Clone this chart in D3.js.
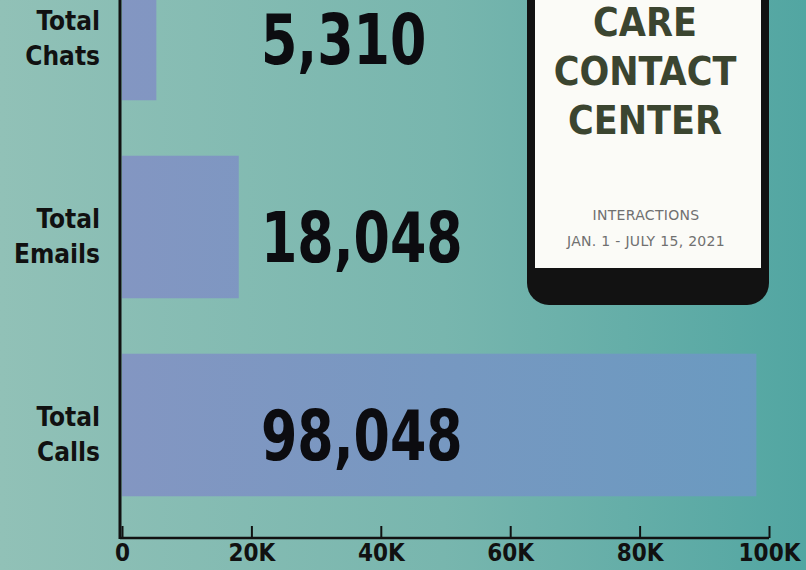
<!DOCTYPE html>
<html>
<head>
<meta charset="utf-8">
<script src="https://cdn.jsdelivr.net/npm/d3@7"></script>
<style>
  body { margin: 0; background: #7fb8b0; }
  #chart-area svg { display: block; }
</style>
</head>
<body>
<div id="chart-area"></div>
<script>

// Data
var categories = ["Total Chats", "Total Emails", "Total Calls"];
var values = [5310, 18048, 98048];
var tickValues = [0, 20000, 40000, 60000, 80000, 100000];
var tickLabels = ["0", "20K", "40K", "60K", "80K", "100K"];
var phoneTitle = ["CARE", "CONTACT", "CENTER"];
var phoneNote = ["INTERACTIONS", "JAN. 1 - JULY 15, 2021"];

var W = 806, H = 570;
var font = "'DejaVu Sans Condensed', 'DejaVu Sans', sans-serif";

var svg = d3.select("#chart-area").append("svg")
    .attr("width", W)
    .attr("height", H);

var defs = svg.append("defs");

var bg = defs.append("linearGradient").attr("id", "bg")
    .attr("x1", "0").attr("x2", "1").attr("y1", "0").attr("y2", "0");
bg.append("stop").attr("offset", "0").attr("stop-color", "#91c1b7");
bg.append("stop").attr("offset", "0.55").attr("stop-color", "#78b6ae");
bg.append("stop").attr("offset", "1").attr("stop-color", "#52a6a2");

var barGrad = defs.append("linearGradient").attr("id", "barGrad")
    .attr("gradientUnits", "userSpaceOnUse")
    .attr("x1", 120).attr("x2", 770).attr("y1", 0).attr("y2", 0);
barGrad.append("stop").attr("offset", "0").attr("stop-color", "#8396c2");
barGrad.append("stop").attr("offset", "1").attr("stop-color", "#6a9ac0");

svg.append("rect")
    .attr("width", W)
    .attr("height", H)
    .attr("fill", "url(#bg)");

// Scales
var x = d3.scaleLinear()
    .domain([0, 100000])
    .range([122, 769]);

var y = d3.scaleBand()
    .domain(categories)
    .range([-70, 524])
    .paddingInner(0.28)
    .paddingOuter(0.14);

// Phone graphic (top right)
var phone = svg.append("g");
phone.append("rect")
    .attr("x", 527).attr("y", -40)
    .attr("width", 242).attr("height", 345)
    .attr("rx", 22)
    .attr("fill", "#121212");
phone.append("rect")
    .attr("x", 535).attr("y", -40)
    .attr("width", 226).attr("height", 308)
    .attr("fill", "#fbfbf7");

phone.selectAll(".ptitle")
    .data(phoneTitle)
    .join("text")
    .attr("class", "ptitle")
    .attr("x", 645)
    .attr("y", (d, i) => 36 + i * 49)
    .attr("text-anchor", "middle")
    .attr("font-family", font)
    .attr("font-weight", "bold")
    .attr("font-size", 39)
    .attr("fill", "#3b4530")
    .text(d => d);

phone.selectAll(".pnote")
    .data(phoneNote)
    .join("text")
    .attr("class", "pnote")
    .attr("x", 646)
    .attr("y", (d, i) => 220 + i * 26)
    .attr("text-anchor", "middle")
    .attr("font-family", "'DejaVu Sans', sans-serif")
    .attr("font-size", 14)
    .attr("letter-spacing", 0.3)
    .attr("fill", "#707070")
    .text(d => d);

// Bars
svg.selectAll(".bar")
    .data(categories)
    .join("rect")
    .attr("class", "bar")
    .attr("x", x(0))
    .attr("y", d => y(d))
    .attr("width", (d, i) => x(values[i]) - x(0))
    .attr("height", y.bandwidth())
    .attr("fill", "url(#barGrad)");

// Value labels (squeezed a bit to look like the condensed original)
svg.selectAll(".value")
    .data(categories)
    .join("text")
    .attr("class", "value")
    .attr("transform", d => `translate(261, ${y(d) + y.bandwidth() / 2 + 35}) scale(0.83, 1)`)
    .attr("font-family", font)
    .attr("font-weight", "bold")
    .attr("font-size", 70)
    .attr("fill", "#0c0c10")
    .text((d, i) => d3.format(",")(values[i]));

// Category labels (two lines)
var cat = svg.selectAll(".cat")
    .data(categories)
    .join("text")
    .attr("class", "cat")
    .attr("text-anchor", "end")
    .attr("font-family", font)
    .attr("font-weight", "bold")
    .attr("font-size", 26)
    .attr("fill", "#111");

cat.selectAll("tspan")
    .data(d => d.split(" ").map(w => ({w: w, c: d})))
    .join("tspan")
    .attr("x", 100)
    .attr("y", (t, j) => y(t.c) + y.bandwidth() / 2 + 1 + j * 35)
    .text(t => t.w);

// Axes
var xAxis = d3.axisBottom(x)
    .tickValues(tickValues)
    .tickSizeInner(-12)
    .tickSizeOuter(0)
    .tickPadding(6)
    .tickFormat((d, i) => tickLabels[i]);

var gx = svg.append("g")
    .attr("class", "x-axis")
    .attr("transform", "translate(0,538)")
    .call(xAxis);

gx.select(".domain")
    .attr("stroke", "#111")
    .attr("stroke-width", 2.5)
    .attr("d", "M120,0H" + x(100000));
gx.selectAll(".tick line")
    .attr("stroke", "#111")
    .attr("stroke-width", 2);
gx.selectAll(".tick text")
    .attr("font-family", font)
    .attr("font-weight", "bold")
    .attr("font-size", 24)
    .attr("fill", "#111");

svg.append("line")
    .attr("class", "y-axis")
    .attr("x1", 120).attr("x2", 120)
    .attr("y1", 0).attr("y2", 539)
    .attr("stroke", "#111")
    .attr("stroke-width", 3);

</script>
</body>
</html>
